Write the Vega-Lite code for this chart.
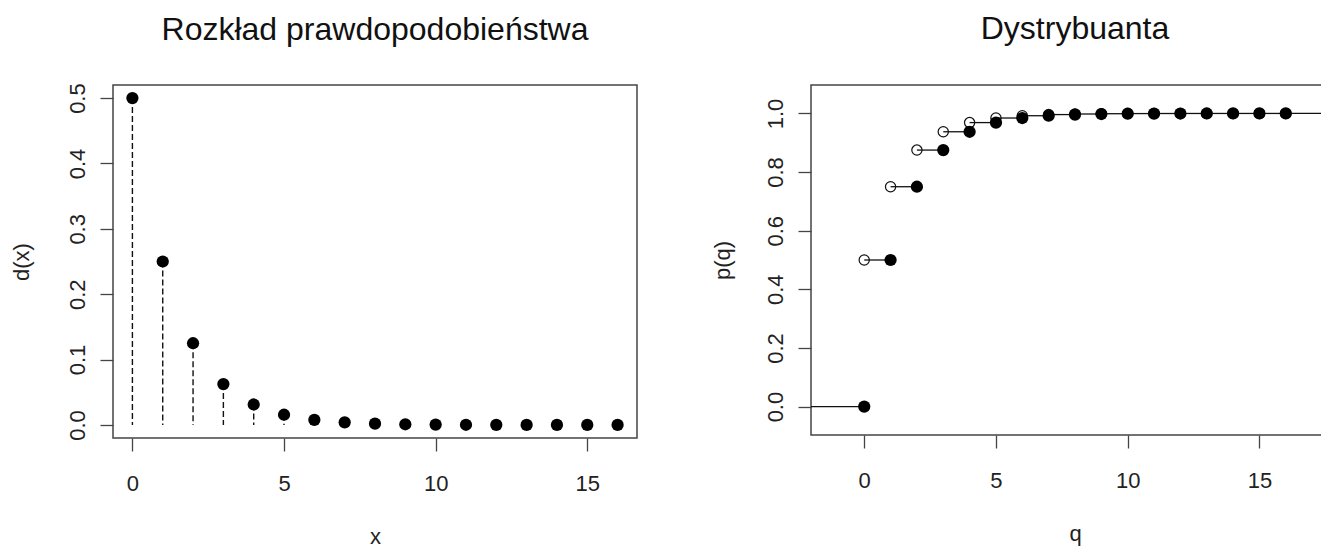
{
  "$schema": "https://vega.github.io/schema/vega-lite/v6.json",
  "background": "white",
  "padding": {"left": 9, "top": 12, "right": 0, "bottom": 0},
  "spacing": 72,
  "datasets": {
    "pmf": [
      {"x": 0, "d": 0.5}, {"x": 1, "d": 0.25}, {"x": 2, "d": 0.125}, {"x": 3, "d": 0.0625},
      {"x": 4, "d": 0.03125}, {"x": 5, "d": 0.015625}, {"x": 6, "d": 0.0078125}, {"x": 7, "d": 0.00390625},
      {"x": 8, "d": 0.001953125}, {"x": 9, "d": 0.0009765625}, {"x": 10, "d": 0.00048828125}, {"x": 11, "d": 0.000244140625},
      {"x": 12, "d": 0.0001220703125}, {"x": 13, "d": 0.00006103515625}, {"x": 14, "d": 0.000030517578125}, {"x": 15, "d": 0.0000152587890625},
      {"x": 16, "d": 0.00000762939453125}
    ],
    "segments": [
      {"from": -2.02, "to": 0, "p": 0},
      {"from": 0, "to": 1, "p": 0.5}, {"from": 1, "to": 2, "p": 0.75}, {"from": 2, "to": 3, "p": 0.875},
      {"from": 3, "to": 4, "p": 0.9375}, {"from": 4, "to": 5, "p": 0.96875}, {"from": 5, "to": 6, "p": 0.984375},
      {"from": 6, "to": 7, "p": 0.9921875}, {"from": 7, "to": 8, "p": 0.99609375}, {"from": 8, "to": 9, "p": 0.998046875},
      {"from": 9, "to": 10, "p": 0.9990234375}, {"from": 10, "to": 11, "p": 0.99951171875}, {"from": 11, "to": 12, "p": 0.999755859375},
      {"from": 12, "to": 13, "p": 0.9998779296875}, {"from": 13, "to": 14, "p": 0.99993896484375}, {"from": 14, "to": 15, "p": 0.999969482421875},
      {"from": 15, "to": 16, "p": 0.9999847412109375}, {"from": 16, "to": 18.02, "p": 0.99999237060546875}
    ],
    "open": [
      {"q": 0, "p": 0.5}, {"q": 1, "p": 0.75}, {"q": 2, "p": 0.875}, {"q": 3, "p": 0.9375},
      {"q": 4, "p": 0.96875}, {"q": 5, "p": 0.984375}, {"q": 6, "p": 0.9921875}, {"q": 7, "p": 0.99609375},
      {"q": 8, "p": 0.998046875}, {"q": 9, "p": 0.9990234375}, {"q": 10, "p": 0.99951171875}, {"q": 11, "p": 0.999755859375},
      {"q": 12, "p": 0.9998779296875}, {"q": 13, "p": 0.99993896484375}, {"q": 14, "p": 0.999969482421875}, {"q": 15, "p": 0.9999847412109375},
      {"q": 16, "p": 0.99999237060546875}
    ],
    "filled": [
      {"q": 0, "p": 0}, {"q": 1, "p": 0.5}, {"q": 2, "p": 0.75}, {"q": 3, "p": 0.875},
      {"q": 4, "p": 0.9375}, {"q": 5, "p": 0.96875}, {"q": 6, "p": 0.984375}, {"q": 7, "p": 0.9921875},
      {"q": 8, "p": 0.99609375}, {"q": 9, "p": 0.998046875}, {"q": 10, "p": 0.9990234375}, {"q": 11, "p": 0.99951171875},
      {"q": 12, "p": 0.999755859375}, {"q": 13, "p": 0.9998779296875}, {"q": 14, "p": 0.99993896484375}, {"q": 15, "p": 0.999969482421875},
      {"q": 16, "p": 0.9999847412109375}
    ]
  },
  "hconcat": [
    {
      "width": 524,
      "height": 353,
      "title": {"text": "Rozkład prawdopodobieństwa", "offset": 36},
      "layer": [
        {
          "data": {"name": "pmf"},
          "mark": {"type": "rule", "strokeDash": [6, 3], "color": "#111", "strokeWidth": 1.4},
          "encoding": {
            "x": {"field": "x", "type": "quantitative",
                  "scale": {"domain": [-0.64, 16.64], "nice": false, "zero": false},
                  "axis": {"values": [0, 5, 10, 15], "title": "x", "titleY": 105, "format": "d"}},
            "y": {"field": "d", "type": "quantitative",
                  "scale": {"domain": [-0.02, 0.52], "nice": false, "zero": false},
                  "axis": {"values": [0, 0.1, 0.2, 0.3, 0.4, 0.5], "format": ".1f", "title": "d(x)", "titleX": -85}},
            "y2": {"datum": 0}
          }
        },
        {
          "data": {"name": "pmf"},
          "mark": {"type": "point", "filled": true, "size": 150, "color": "black", "opacity": 1},
          "encoding": {
            "x": {"field": "x", "type": "quantitative"},
            "y": {"field": "d", "type": "quantitative"}
          }
        }
      ]
    },
    {
      "width": 528,
      "height": 350,
      "title": {"text": "Dystrybuanta", "offset": 39},
      "layer": [
        {
          "data": {"name": "segments"},
          "mark": {"type": "rule", "color": "#111", "strokeWidth": 1.3, "clip": true},
          "encoding": {
            "x": {"field": "from", "type": "quantitative",
                  "scale": {"domain": [-2.02, 18.02], "nice": false, "zero": false},
                  "axis": {"values": [0, 5, 10, 15], "title": "q", "titleY": 105, "format": "d"}},
            "x2": {"field": "to"},
            "y": {"field": "p", "type": "quantitative",
                  "scale": {"domain": [-0.097, 1.097], "nice": false, "zero": false},
                  "axis": {"values": [0, 0.2, 0.4, 0.6, 0.8, 1.0], "format": ".1f", "title": "p(q)", "titleX": -82}}
          }
        },
        {
          "data": {"name": "open"},
          "mark": {"type": "point", "filled": false, "size": 105, "color": "#111", "strokeWidth": 1.2, "opacity": 1},
          "encoding": {
            "x": {"field": "q", "type": "quantitative"},
            "y": {"field": "p", "type": "quantitative"}
          }
        },
        {
          "data": {"name": "filled"},
          "mark": {"type": "point", "filled": true, "size": 150, "color": "black", "opacity": 1},
          "encoding": {
            "x": {"field": "q", "type": "quantitative"},
            "y": {"field": "p", "type": "quantitative"}
          }
        }
      ]
    }
  ],
  "config": {
    "font": "Liberation Sans",
    "view": {"stroke": "#444", "strokeWidth": 1.5},
    "title": {"font": "Liberation Sans", "fontSize": 32, "fontWeight": "normal", "color": "#111", "baseline": "alphabetic", "anchor": "middle", "frame": "group"},
    "axis": {
      "grid": false, "domain": false, "tickColor": "#444", "tickWidth": 1.3, "tickSize": 13,
      "labelFont": "Liberation Sans", "labelFontSize": 22, "labelColor": "#222",
      "titleFont": "Liberation Sans", "titleFontSize": 22, "titleFontWeight": "normal", "titleColor": "#222",
      "labelOverlap": false, "labelFlush": false
    },
    "axisX": {"labelAngle": 0, "labelBaseline": "alphabetic", "labelPadding": 39, "titleBaseline": "alphabetic"},
    "axisY": {"labelAngle": -90, "labelAlign": "center", "labelBaseline": "alphabetic", "labelPadding": 16, "titleAngle": -90, "titleAlign": "center", "titleBaseline": "alphabetic"}
  }
}
